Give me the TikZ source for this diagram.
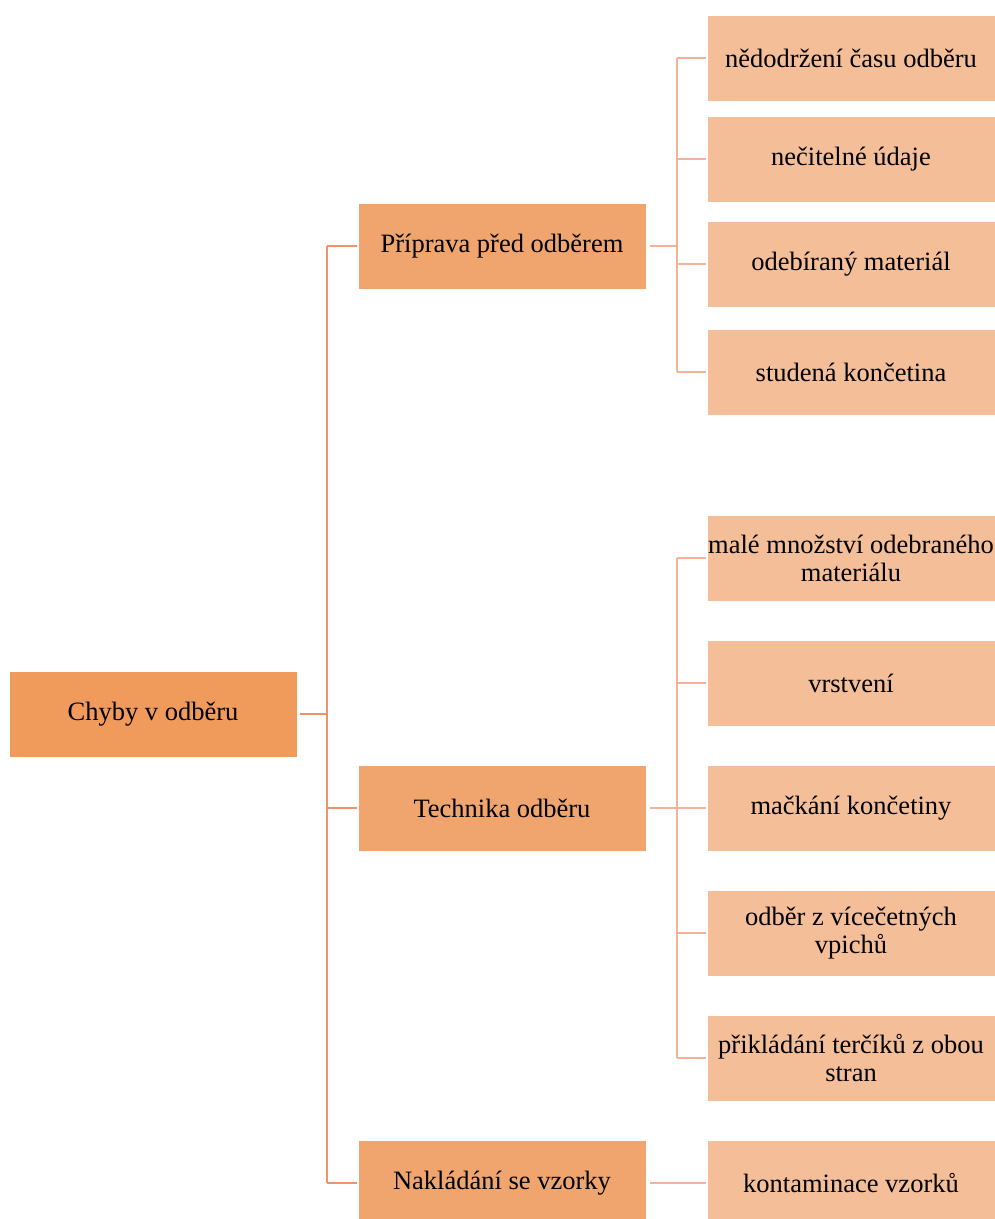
\documentclass[tikz,border=0pt]{standalone}
\usepackage{fontspec}
\setmainfont{Liberation Serif}
\definecolor{rootfill}{HTML}{F09A5C}
\definecolor{midfill}{HTML}{F0A56E}
\definecolor{leaffill}{HTML}{F4BE99}
\definecolor{trunkline}{HTML}{F0926A}
\definecolor{leafline}{HTML}{F4B399}
\begin{document}
\begin{tikzpicture}[x=1pt,y=-1pt,
  box/.style={draw=white,line width=0.6pt,minimum width=288pt,minimum height=86pt,inner sep=0pt,align=center,font=\fontsize{26.5}{28}\selectfont},
  rootbox/.style={box,fill=rootfill},
  midbox/.style={box,fill=midfill},
  leafbox/.style={box,fill=leaffill},
  trunk/.style={draw=trunkline,line width=2.6pt},
  branch/.style={draw=leafline,line width=2.6pt}]
\useasboundingbox (0,0) rectangle (995,1219);
\node[rootbox] (root) at (153,714) {Chyby v odběru};
\node[midbox] (m1) at (502,246) {Příprava před odběrem};
\node[midbox] (m2) at (502,808) {Technika odběru};
\node[midbox] (m3) at (502,1183) {Nakládání se vzorky};
\node[leafbox] (l1) at (851,58) {nědodržení času odběru};
\node[leafbox] (l2) at (851,159) {nečitelné údaje};
\node[leafbox] (l3) at (851,264) {odebíraný materiál};
\node[leafbox] (l4) at (851,372) {studená končetina};
\node[leafbox] (l5) at (851,558) {malé množství odebraného\\materiálu};
\node[leafbox] (l6) at (851,683) {vrstvení};
\node[leafbox] (l7) at (851,808) {mačkání končetiny};
\node[leafbox] (l8) at (851,933) {odběr z vícečetných\\vpichů};
\node[leafbox] (l9) at (851,1058) {přikládání terčíků z obou\\stran};
\node[leafbox] (l10) at (851,1183) {kontaminace vzorků};
% root connectors
\coordinate (tj) at (327,714);
\draw[trunk] ([xshift=3pt]root.east) -- (tj);
\foreach \m in {m1,m2,m3}{
  \draw[trunk] (tj |- \m.west) -- ([xshift=-1pt]\m.west);
}
\draw[trunk] (tj |- m1.west) -- (tj |- m3.west);
% branch connectors
\coordinate (bj) at (677,246);
\draw[branch] ([xshift=4pt]m1.east) -- (bj);
\foreach \l in {l1,l2,l3,l4}{
  \draw[branch] (bj |- \l.west) -- ([xshift=-1pt]\l.west);
}
\draw[branch] (bj |- l1.west) -- (bj |- l4.west);
\coordinate (bk) at (677,808);
\draw[branch] ([xshift=4pt]m2.east) -- (bk);
\foreach \l in {l5,l6,l7,l8,l9}{
  \draw[branch] (bk |- \l.west) -- ([xshift=-1pt]\l.west);
}
\draw[branch] (bk |- l5.west) -- (bk |- l9.west);
\draw[branch] ([xshift=4pt]m3.east) -- ([xshift=-1pt]l10.west);
\end{tikzpicture}
\end{document}
